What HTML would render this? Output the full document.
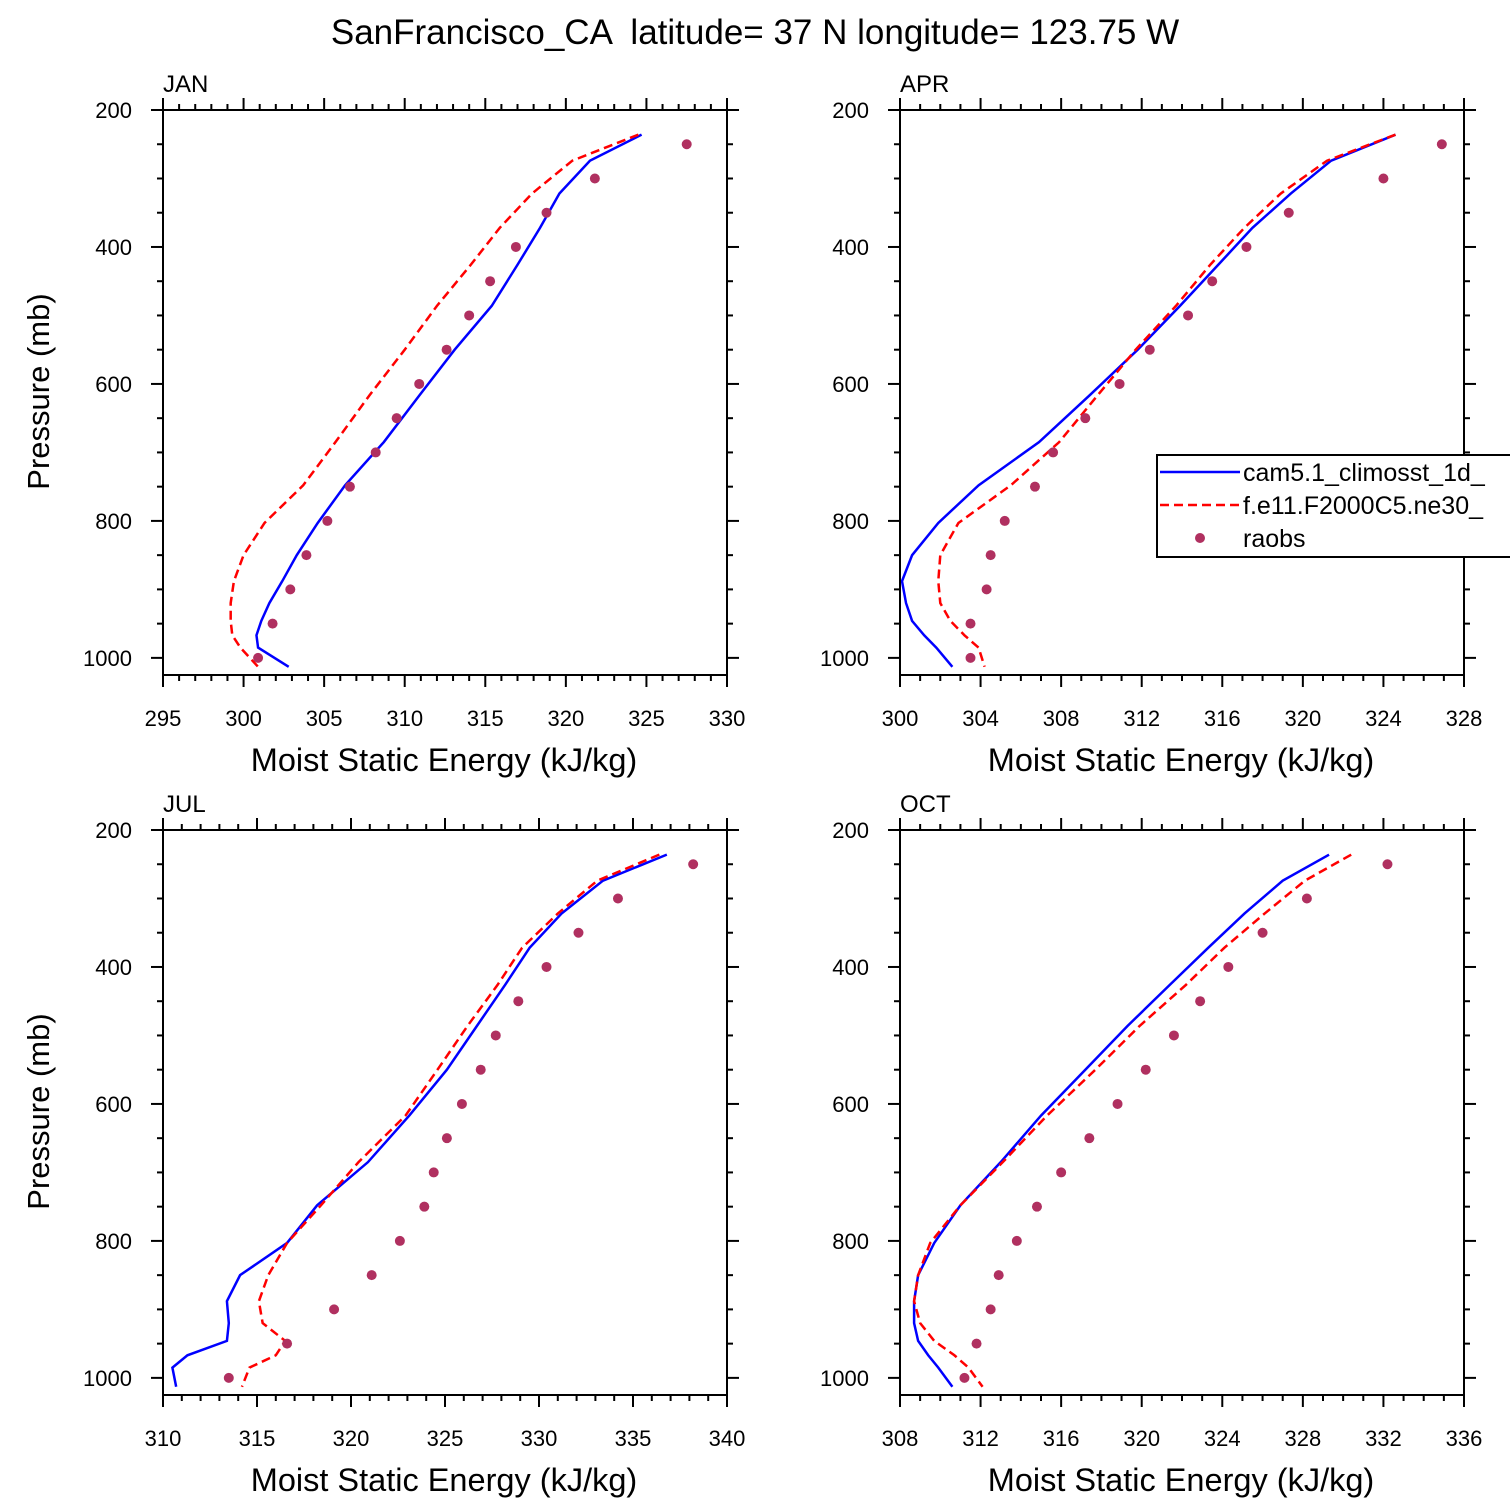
<!DOCTYPE html>
<html><head><meta charset="utf-8"><style>
body{margin:0;background:#fff}
svg{display:block;font-family:"Liberation Sans",Arial,sans-serif}
</style></head><body>
<svg id="chart" width="1510" height="1510" viewBox="0 0 1510 1510" xmlns="http://www.w3.org/2000/svg">
<text x="755" y="44" text-anchor="middle" font-size="35" xml:space="preserve">SanFrancisco_CA  latitude= 37 N longitude= 123.75 W</text>
</svg>
<script>
const modelP=[236,274,322,372,426,486,550,617,685,748,803,850,888,920,946,967,985,1013];
const obsP=[250,300,350,400,450,500,550,600,650,700,750,800,850,900,950,1000];
const janCam=[324.7,321.5,319.6,318.4,317.0,315.4,313.1,310.9,308.7,306.3,304.6,303.3,302.4,301.6,301.1,300.8,300.9,302.8];
const janF=[324.5,320.4,317.9,315.9,314.1,312.0,310.0,307.8,305.7,303.7,301.3,300.0,299.4,299.2,299.2,299.3,299.8,300.9];
const janObs=[327.5,321.8,318.8,316.9,315.3,314.0,312.6,310.9,309.5,308.2,306.6,305.2,303.9,302.9,301.8,300.9];
const aprCam=[324.6,321.4,319.4,317.5,315.8,313.9,311.8,309.4,306.9,303.9,301.9,300.6,300.1,300.3,300.6,301.2,301.8,302.6];
const aprF=[324.6,321.2,318.9,317.1,315.4,313.7,311.7,309.8,307.9,305.5,302.9,302.0,301.9,302.0,302.5,303.2,303.9,304.2];
const aprObs=[326.9,324.0,319.3,317.2,315.5,314.3,312.4,310.9,309.2,307.6,306.7,305.2,304.5,304.3,303.5,303.5];
const julCam=[336.8,333.4,331.2,329.5,328.2,326.7,325.1,323.1,320.9,318.2,316.6,314.1,313.4,313.5,313.4,311.3,310.5,310.7];
const julF=[336.4,333.1,331.0,329.1,327.8,326.2,324.6,322.9,320.4,318.4,316.6,315.6,315.1,315.3,316.5,316.0,314.6,314.2];
const julObs=[338.2,334.2,332.1,330.4,328.9,327.7,326.9,325.9,325.1,324.4,323.9,322.6,321.1,319.1,316.6,313.5];
const octCam=[329.3,327.0,325.1,323.3,321.4,319.3,317.2,315.0,313.0,311.0,309.7,308.9,308.7,308.7,308.9,309.4,309.9,310.6];
const octF=[330.4,328.1,326.1,324.1,322.2,319.9,317.7,315.3,313.1,311.0,309.5,308.9,308.7,309.0,309.7,310.7,311.4,312.1];
const octObs=[332.2,328.2,326.0,324.3,322.9,321.6,320.2,318.8,317.4,316.0,314.8,313.8,312.9,312.5,311.8,311.2];
const yTicks=[200,400,600,800,1000];
const janX=[295,300,305,310,315,320,325,330];
const aprX=[300,304,308,312,316,320,324,328];
const julX=[310,315,320,325,330,335,340];
const octX=[308,312,316,320,324,328,332,336];

const NS="http://www.w3.org/2000/svg";
const svg=document.getElementById('chart');
function mk(tag,attrs,parent){const e=document.createElementNS(NS,tag);for(const k in attrs)e.setAttribute(k,attrs[k]);(parent||svg).appendChild(e);return e;}

function panel(name,label,x0,y0,xTicks,minorStep,cam,f,obs,showYTitle){
  const W=564,H=565,pMin=200,pMax=1025;
  const xmin=xTicks[0],xmax=xTicks[xTicks.length-1];
  const sx=v=>x0+(v-xmin)/(xmax-xmin)*W;
  const sy=p=>y0+(p-pMin)/(pMax-pMin)*H;
  const g=mk('g',{});
  
  
  const lab=mk('text',{x:x0,y:y0-18,'font-size':24},g);lab.textContent=label;
  
  
  for(let v=xmin;v<=xmax+1e-6;v+=minorStep){
    const major=xTicks.some(t=>Math.abs(t-v)<1e-6);const L=major?12:6;
    const x=sx(v);
    mk('line',{x1:x,x2:x,y1:y0+H,y2:y0+H+L,stroke:'#000','stroke-width':2},g);
    mk('line',{x1:x,x2:x,y1:y0,y2:y0-L,stroke:'#000','stroke-width':2},g);
  }
  xTicks.forEach(t=>{const tx=mk('text',{x:sx(t),y:y0+H+51,'font-size':22,'text-anchor':'middle'},g);tx.textContent=t;
    
    });
  for(let p=200;p<=1000;p+=50){
    const major=p%200===0;const L=major?12:6;const y=sy(p);
    mk('line',{x1:x0,x2:x0-L,y1:y,y2:y,stroke:'#000','stroke-width':2},g);
    mk('line',{x1:x0+W,x2:x0+W+L,y1:y,y2:y,stroke:'#000','stroke-width':2},g);
  }
  yTicks.forEach(t=>{const tx=mk('text',{x:x0-31,y:sy(t)+8,'font-size':22,'text-anchor':'end'},g);tx.textContent=t;
    
    });
  const xt=mk('text',{x:x0+W/2-1,y:y0+H+96,'font-size':32.5,'text-anchor':'middle'},g);xt.textContent='Moist Static Energy (kJ/kg)';
  
  
  if(showYTitle){const yt=mk('text',{x:0,y:0,'font-size':31,'text-anchor':'middle',transform:`translate(49,${y0+H/2-1}) rotate(-90)`},g);yt.textContent='Pressure (mb)';
    
    }
  const cp='clip-'+name;
  const cl=mk('clipPath',{id:cp},g);mk('rect',{x:x0,y:y0,width:W,height:H},cl);
  const l1=mk('polyline',{points:cam.map((v,i)=>sx(v)+','+sy(modelP[i])).join(' '),fill:'none',stroke:'#0000ff','stroke-width':2.5,'clip-path':`url(#${cp})`},g);
  
  
  const l2=mk('polyline',{points:f.map((v,i)=>sx(v)+','+sy(modelP[i])).join(' '),fill:'none',stroke:'#ff0000','stroke-width':2.5,'stroke-dasharray':'9,5','clip-path':`url(#${cp})`},g);
  
  
  obs.forEach((v,i)=>{const c=mk('circle',{cx:sx(v),cy:sy(obsP[i]),r:5,fill:'#b03060'},g);
    
    });
  const fr=mk('rect',{x:x0,y:y0,width:W,height:H,fill:'none',stroke:'#000','stroke-width':2},g);
  
  
}
panel('jan','JAN',163,110,janX,1,janCam,janF,janObs,true);
panel('apr','APR',900,110,aprX,1,aprCam,aprF,aprObs,false);
panel('jul','JUL',163,830,julX,1,julCam,julF,julObs,true);
panel('oct','OCT',900,830,octX,1,octCam,octF,octObs,false);

const lg=mk('g',{});


mk('rect',{x:1157,y:455,width:360,height:102,fill:'#fff',stroke:'#000','stroke-width':2},lg);
const entries=[['cam5.1_climosst_1d_','#0000ff',null,'line'],['f.e11.F2000C5.ne30_','#ff0000','9,5','line'],['raobs','#b03060',null,'dot']];
entries.forEach((e,i)=>{
  const y=472+i*33;
  if(e[3]==='line'){const l=mk('line',{x1:1160,x2:1240,y1:y,y2:y,stroke:e[1],'stroke-width':2.5},lg);if(e[2])l.setAttribute('stroke-dasharray',e[2]);}
  else mk('circle',{cx:1200,cy:y,r:5,fill:e[1]},lg);
  const t=mk('text',{x:1243,y:y+9,'font-size':25},lg);t.textContent=e[0];
  
  
});
</script>
</body></html>
